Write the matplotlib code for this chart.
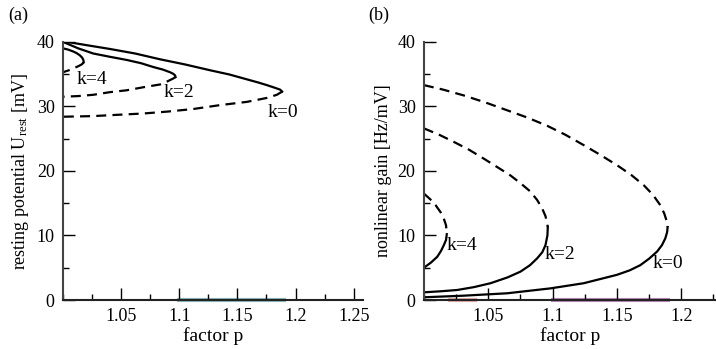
import numpy as np
import matplotlib.pyplot as plt
from matplotlib.ticker import MultipleLocator

plt.rcParams['font.family'] = ['Liberation Serif', 'DejaVu Serif']
plt.rcParams['mathtext.fontset'] = 'stix'

# panel (a): resting potential, stable (solid) and unstable (dashed) branches
a_k0_solid_p = [1.0, 1.02, 1.0404, 1.062, 1.0835, 1.105, 1.1265, 1.143, 1.158, 1.168, 1.1753, 1.182, 1.1867, 1.1885]
a_k0_solid_u = [40.1, 39.5, 38.9, 38.2, 37.3, 36.5, 35.6, 34.95, 34.2, 33.7, 33.3, 32.9, 32.6, 32.3]
a_k0_dash_p = [1.1885, 1.1839, 1.175, 1.158, 1.135, 1.1121, 1.09, 1.069, 1.047, 1.026, 1.0]
a_k0_dash_u = [32.3, 31.8, 31.3, 30.7, 30.2, 29.6, 29.2, 28.9, 28.7, 28.5, 28.4]

a_k2_solid_p = [1.0, 1.013, 1.026, 1.04, 1.0548, 1.067, 1.0777, 1.086, 1.092, 1.0948, 1.0964, 1.0968]
a_k2_solid_u = [40.0, 39.0, 38.2, 37.7, 37.2, 36.7, 36.1, 35.7, 35.3, 35.05, 34.8, 34.55]
a_k2_dash_p = [1.0968, 1.0945, 1.09, 1.0835, 1.07, 1.0548, 1.04, 1.026, 1.013, 1.0]
a_k2_dash_u = [34.55, 34.3, 33.9, 33.4, 33.0, 32.5, 32.2, 31.8, 31.6, 31.5]

a_k4_solid_p = [1.0, 1.0045, 1.0089, 1.0118, 1.0146, 1.0165, 1.0175, 1.0178]
a_k4_solid_u = [39.0, 38.8, 38.5, 38.25, 37.9, 37.55, 37.2, 36.85]
a_k4_dash_p = [1.0178, 1.0172, 1.0160, 1.0128, 1.0089, 1.005, 1.0017, 1.0]
a_k4_dash_u = [36.85, 36.7, 36.5, 36.2, 35.9, 35.6, 35.4, 35.3]

# panel (b): nonlinear gain
b_k0_dash_p = [1.0, 1.015, 1.031, 1.048, 1.0647, 1.080, 1.0958, 1.11, 1.1242, 1.137, 1.150,
               1.161, 1.1708, 1.178, 1.1837, 1.1868, 1.1889, 1.1894]
b_k0_dash_g = [33.3, 32.6, 31.7, 30.6, 29.4, 28.3, 27.0, 25.6, 24.0, 22.5, 20.9,
               19.4, 17.8, 16.3, 14.7, 13.4, 12.1, 11.3]
b_k0_solid_p = [1.1894, 1.1890, 1.1876, 1.185, 1.1812, 1.175, 1.1682, 1.160, 1.150, 1.1242,
                1.0983, 1.0647, 1.031, 1.0]
b_k0_solid_g = [11.3, 10.5, 9.55, 8.5, 7.5, 6.4, 5.4, 4.6, 3.9, 2.6,
                1.8, 1.04, 0.67, 0.42]

b_k2_dash_p = [1.0, 1.012, 1.0233, 1.035, 1.0466, 1.057, 1.0673, 1.0757, 1.0828, 1.088, 1.0919,
               1.0945, 1.0958, 1.0963]
b_k2_dash_g = [26.6, 25.6, 24.5, 23.3, 21.9, 20.6, 19.3, 18.0, 16.8, 15.5, 14.2,
               13.0, 11.9, 11.3]
b_k2_solid_p = [1.0963, 1.0960, 1.0945, 1.092, 1.088, 1.0825, 1.0751, 1.065, 1.0518, 1.039,
                1.0259, 1.013, 1.0]
b_k2_solid_g = [11.3, 10.0, 8.5, 7.4, 6.45, 5.4, 4.4, 3.5, 2.6, 2.0,
                1.55, 1.35, 1.19]

b_k4_dash_p = [1.0, 1.005, 1.0091, 1.013, 1.0155, 1.0172, 1.0176, 1.0178]
b_k4_dash_g = [16.5, 15.6, 14.7, 13.6, 12.6, 11.6, 10.8, 10.2]
b_k4_solid_p = [1.0178, 1.0172, 1.0155, 1.0133, 1.0104, 1.0055, 1.0]
b_k4_solid_g = [10.2, 9.3, 8.5, 7.6, 6.7, 5.8, 5.0]

# zero branches peeking out under the x axis
a_zero_p = [1.1, 1.19]
b_zero1_p = [1.02, 1.04]
b_zero2_p = [1.1, 1.19]

labels = ["k=0", "k=2", "k=4"]
a_label_p = [1.189, 1.0993, 1.0247]
a_label_u = [29.1, 32.1, 34.2]
b_label_p = [1.190, 1.106, 1.0298]
b_label_g = [5.7, 7.0, 8.5]

fig = plt.figure(figsize=(7.16, 3.49), dpi=100)
ax1 = fig.add_axes([0.088, 0.1404, 0.419, 0.7396])
ax2 = fig.add_axes([0.592, 0.1404, 0.408, 0.7396])

lw = 1.6
dash = (0, (4.5, 2.8))

ax1.plot(a_zero_p, [0, 0], color="#3c8c8c", lw=3, alpha=0.6, zorder=1, clip_on=False)
for sp, su, dp, du in [(a_k0_solid_p, a_k0_solid_u, a_k0_dash_p, a_k0_dash_u),
                       (a_k2_solid_p, a_k2_solid_u, a_k2_dash_p, a_k2_dash_u),
                       (a_k4_solid_p, a_k4_solid_u, a_k4_dash_p, a_k4_dash_u)]:
    ax1.plot(sp, su, color="black", lw=lw)
    ax1.plot(dp, du, color="black", lw=lw, linestyle=dash)
for t, x, y in zip(labels, a_label_p, a_label_u):
    ax1.text(x, y, t, ha="center", va="center", fontsize=14)

ax2.plot(b_zero1_p, [0, 0], color="#c87070", lw=3, alpha=0.6, zorder=1, clip_on=False)
ax2.plot(b_zero2_p, [0, 0], color="#8a3c8a", lw=3, alpha=0.6, zorder=1, clip_on=False)
for sp, sg, dp, dg in [(b_k0_solid_p, b_k0_solid_g, b_k0_dash_p, b_k0_dash_g),
                       (b_k2_solid_p, b_k2_solid_g, b_k2_dash_p, b_k2_dash_g),
                       (b_k4_solid_p, b_k4_solid_g, b_k4_dash_p, b_k4_dash_g)]:
    ax2.plot(sp, sg, color="black", lw=lw)
    ax2.plot(dp, dg, color="black", lw=lw, linestyle=dash)
for t, x, y in zip(labels, b_label_p, b_label_g):
    ax2.text(x, y, t, ha="center", va="center", fontsize=14)

for ax, xmax in [(ax1, 1.258), (ax2, 1.227)]:
    ax.set_xlim(1.0, xmax)
    ax.set_ylim(0, 40)
    ax.spines["top"].set_visible(False)
    ax.spines["right"].set_visible(False)
    ax.spines["left"].set_linewidth(1.5)
    ax.spines["bottom"].set_linewidth(1.5)
    ax.spines["left"].set_color("#444444")
    ax.spines["bottom"].set_color("#222222")
    ax.xaxis.set_major_locator(MultipleLocator(0.05))
    ax.xaxis.set_minor_locator(MultipleLocator(0.025))
    ax.yaxis.set_major_locator(MultipleLocator(10))
    ax.yaxis.set_minor_locator(MultipleLocator(5))
    ax.tick_params(which="major", direction="in", length=8.5, width=1, labelsize=13, pad=6)
    ax.tick_params(which="minor", direction="in", length=4, width=1)
    ax.set_xlabel("factor p", fontsize=14, labelpad=1)

ax1.set_xticks([1.05, 1.1, 1.15, 1.2, 1.25])
ax1.set_xticklabels(["1.05", "1.1", "1.15", "1.2", "1.25"])
ax2.set_xticks([1.05, 1.1, 1.15, 1.2])
ax2.set_xticklabels(["1.05", "1.1", "1.15", "1.2"])

ax1.set_ylabel(r"resting potential U$_\mathregular{rest}$ [mV]", fontsize=13, labelpad=4)
ax2.set_ylabel("nonlinear gain [Hz/mV]", fontsize=13, labelpad=4)

fig.text(0.011, 0.955, "(a)", fontsize=13, va="center")
fig.text(0.514, 0.955, "(b)", fontsize=13, va="center")

fig.savefig("out.png", dpi=100)
